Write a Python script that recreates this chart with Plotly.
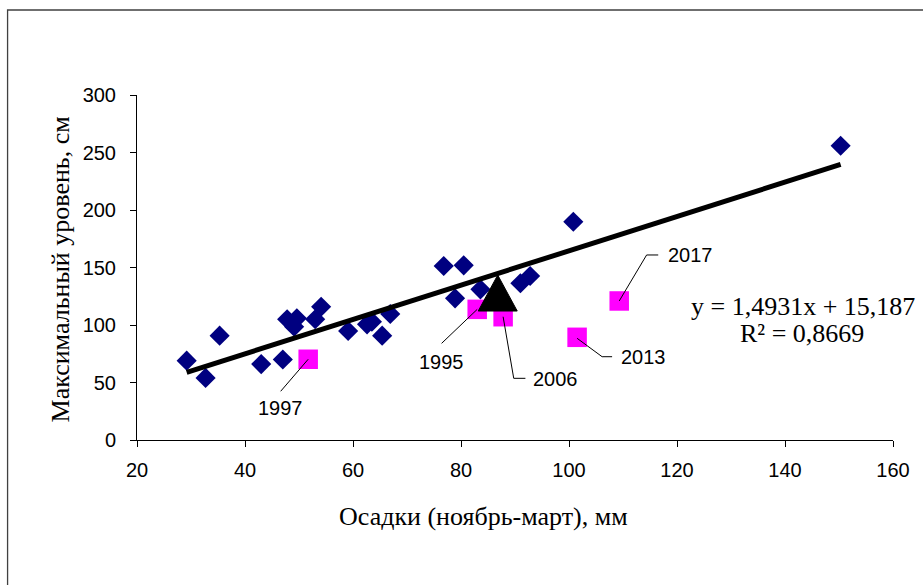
import plotly.graph_objects as go

# Precipitation (Nov-Mar, mm) vs. maximum level (cm), ordinary years
precip = [29.2, 32.7, 35.3, 43.0, 47.0, 47.8, 49.6, 49.1, 53.0, 54.1, 59.1, 62.6,
          63.5, 65.4, 66.9, 76.8, 80.5, 78.9, 83.6, 91.0, 92.8, 100.8, 150.3]
level = [69, 54, 90.7, 66, 70, 105, 105.8, 98.5, 105, 115.9, 94.8, 100.6,
         102.9, 90.7, 109.6, 151.3, 151.9, 123.2, 131, 136.3, 142.6, 189.8, 255.9]

# Highlighted years
hl_years = ["1997", "1995", "2006", "2013", "2017"]
hl_precip = [51.7, 83.0, 87.8, 101.5, 109.3]
hl_level = [70.2, 113.6, 107.2, 89.3, 120.9]

# Current-year point
cur_precip = [86.8]
cur_level = [127.8]

# Linear trend coefficients
slope = 1.4931
intercept = 15.187
r2 = 0.8669

x_ticks = [20, 40, 60, 80, 100, 120, 140, 160]
y_ticks = [0, 50, 100, 150, 200, 250, 300]

SANS = "Liberation Sans, Arial, sans-serif"
SERIF = "Liberation Serif, Times New Roman, serif"

fig = go.Figure()

fig.add_trace(go.Scatter(
    x=precip, y=level, mode="markers",
    marker=dict(symbol="diamond", size=15.5, color="#000080", line=dict(width=0)),
    showlegend=False, hoverinfo="x+y"))

fig.add_trace(go.Scatter(
    x=hl_precip, y=hl_level, mode="markers", text=hl_years,
    marker=dict(symbol="square", size=19.5, color="#FF00FF", line=dict(width=0)),
    showlegend=False, hoverinfo="text+x+y"))

# Trend line over the range of the ordinary years
tx = [min(precip), max(precip)]
ty = [slope * v + intercept for v in tx]
fig.add_trace(go.Scatter(
    x=tx, y=ty, mode="lines", line=dict(color="black", width=5),
    showlegend=False, hoverinfo="skip"))

shapes = []

# Current year drawn as a large black triangle anchored on its data point
shapes.append(dict(
    type="path", xref="x", yref="y", xsizemode="pixel", ysizemode="pixel",
    xanchor=cur_precip[0], yanchor=cur_level[0],
    path="M-19.5,-18 L19.5,-18 L0,18 Z",
    fillcolor="black", line=dict(color="black", width=1), layer="above"))

# Leader lines (pixel offsets from each highlighted point) and label offsets
leaders = {
    "1997": ("M0,0 L-27.5,-32", (-27.7, -48.7)),
    "1995": ("M0,0 L-35.6,-34", (-35.6, -53.0)),
    "2006": ("M0,0 L10.6,-61.6 L22.3,-61.6", (52.8, -62.6)),
    "2013": ("M0,-1 L25,-19.4 L35,-19.4", (66.6, -19.4)),
    "2017": ("M0,0 L27.4,46 L39,46", (71.2, 46.0)),
}

annotations = []
for yr, xv, yv in zip(hl_years, hl_precip, hl_level):
    path, (dx, dy) = leaders[yr]
    shapes.append(dict(
        type="path", xref="x", yref="y", xsizemode="pixel", ysizemode="pixel",
        xanchor=xv, yanchor=yv, path=path,
        line=dict(color="black", width=1), layer="above"))
    annotations.append(dict(
        x=xv, y=yv, xref="x", yref="y", text=yr, showarrow=False,
        xshift=dx, yshift=dy, xanchor="center", yanchor="middle",
        font=dict(family=SANS, size=20, color="black")))

# Outer chart frame
shapes.append(dict(
    type="rect", xref="paper", yref="paper",
    x0=-0.1712, x1=1.2, y0=-0.6, y1=1.2464,
    line=dict(color="#404040", width=1.3), fillcolor="rgba(0,0,0,0)", layer="below"))

# Regression equation and R²
annotations.append(dict(
    x=0.881, y=0.3864, xref="paper", yref="paper",
    text=f"y = {str(slope).replace('.', ',')}x + {str(intercept).replace('.', ',')}",
    showarrow=False, xanchor="center", yanchor="middle",
    font=dict(family=SERIF, size=26, color="black")))
annotations.append(dict(
    x=0.879, y=0.3093, xref="paper", yref="paper",
    text=f"R² = {str(r2).replace('.', ',')}",
    showarrow=False, xanchor="center", yanchor="middle",
    font=dict(family=SERIF, size=26, color="black")))

# Axis titles
annotations.append(dict(
    x=0.4587, y=0, xref="paper", yref="paper", yshift=-76,
    text="Осадки (ноябрь-март), мм", showarrow=False,
    xanchor="center", yanchor="middle",
    font=dict(family=SERIF, size=26, color="black")))
annotations.append(dict(
    x=0, y=0.4928, xref="paper", yref="paper", xshift=-76.5,
    text="Максимальный уровень, см", showarrow=False, textangle=-90,
    xanchor="center", yanchor="middle",
    font=dict(family=SERIF, size=26, color="black")))

fig.update_layout(
    width=923, height=585,
    margin=dict(l=136.5, r=30, t=95, b=145, pad=0),
    paper_bgcolor="white", plot_bgcolor="white",
    shapes=shapes, annotations=annotations,
    xaxis=dict(
        range=[20, 160], tickvals=x_ticks, showgrid=False, zeroline=False,
        showline=True, linecolor="black", linewidth=1,
        ticks="outside", ticklen=6, tickcolor="black", ticklabelstandoff=6,
        tickfont=dict(family=SANS, size=20, color="black")),
    yaxis=dict(
        range=[0, 300], tickvals=y_ticks, showgrid=False, zeroline=False,
        showline=True, linecolor="black", linewidth=1,
        ticks="outside", ticklen=6, tickcolor="black", ticklabelstandoff=10,
        tickfont=dict(family=SANS, size=20, color="black")),
)

fig.write_html("out.html")
